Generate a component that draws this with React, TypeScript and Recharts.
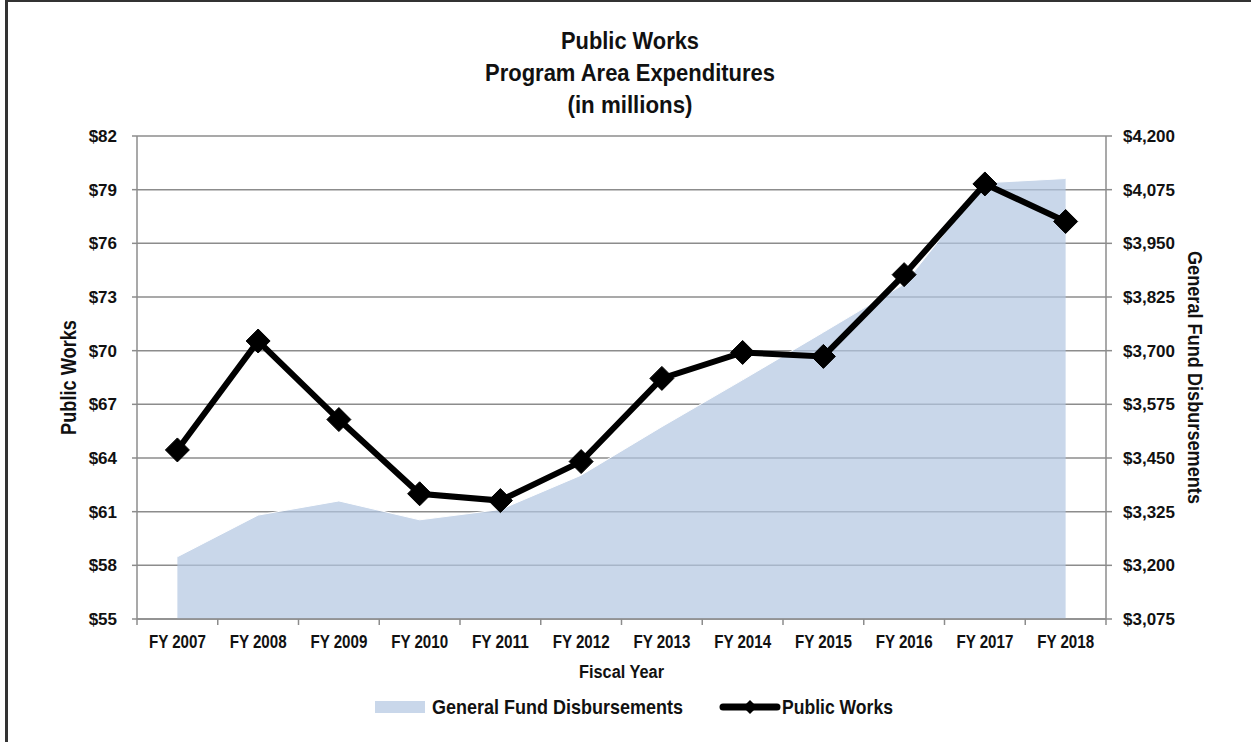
import React from 'react';
import { ComposedChart, Area, Line, XAxis, YAxis, CartesianGrid } from 'recharts';

const categories = ['FY 2007', 'FY 2008', 'FY 2009', 'FY 2010', 'FY 2011', 'FY 2012', 'FY 2013', 'FY 2014', 'FY 2015', 'FY 2016', 'FY 2017', 'FY 2018'];
const publicWorks = [64.45, 70.54, 66.15, 62.0, 61.62, 63.8, 68.45, 69.9, 69.68, 74.25, 79.32, 77.22];
const generalFund = [3220, 3317, 3350, 3306, 3330, 3410, 3523, 3632, 3743, 3855, 4091, 4101];
const leftTicks = [55, 58, 61, 64, 67, 70, 73, 76, 79, 82];
const rightTicks = [3075, 3200, 3325, 3450, 3575, 3700, 3825, 3950, 4075, 4200];
const titleLines = ['Public Works', 'Program Area Expenditures', '(in millions)'];

const data = categories.map((c, i) => ({ fy: c, pw: publicWorks[i], gf: generalFund[i] }));

const W = 1251;
const H = 742;
const M = { top: 136, right: 85, bottom: 93, left: 77 };
const YW = 60;
const XH = 30;
const PLOT_LEFT = M.left + YW;
const PLOT_RIGHT = W - M.right - YW;
const PLOT_BOTTOM = H - M.bottom - XH;
const PLOT_MID_Y = (M.top + PLOT_BOTTOM) / 2;
const HALF_BAND = (PLOT_RIGHT - PLOT_LEFT) / categories.length / 2;

const GRID = '#8c8c8c';
const SANS = '"Liberation Sans", Arial, sans-serif';
const TEXT = '#111';

const XTick = (props: any) => {
  const { x, payload, index } = props;
  const last = index === categories.length - 1;
  return (
    <g>
      <line x1={x - HALF_BAND} x2={x - HALF_BAND} y1={PLOT_BOTTOM} y2={PLOT_BOTTOM + 6} stroke={GRID} strokeWidth={1.5} />
      {last && <line x1={x + HALF_BAND} x2={x + HALF_BAND} y1={PLOT_BOTTOM} y2={PLOT_BOTTOM + 6} stroke={GRID} strokeWidth={1.5} />}
      <text x={x} y={PLOT_BOTTOM + 29} textAnchor="middle" fontFamily={SANS} fontWeight="bold" fontSize={18} textLength={57} lengthAdjust="spacingAndGlyphs" fill={TEXT}>
        {payload.value}
      </text>
    </g>
  );
};

const Diamond = (props: any) => {
  const { cx, cy } = props;
  if (cx == null || cy == null) return null;
  const r = 12;
  return <polygon points={`${cx},${cy - r} ${cx + r},${cy} ${cx},${cy + r} ${cx - r},${cy}`} fill="#000" stroke="#000" strokeWidth={1} strokeLinejoin="round" />;
};

export default function App() {
  return (
    <div style={{ position: 'absolute', left: 0, top: 0, width: W, height: H, background: '#fff', overflow: 'hidden' }}>
      <div style={{ position: 'absolute', left: 5, top: 0, width: W, height: H, borderLeft: '3px solid #333', borderTop: '2px solid #333', boxSizing: 'border-box' }} />
      <ComposedChart width={W} height={H} data={data} margin={M} style={{ position: 'absolute', left: 0, top: 0 }}>
        <CartesianGrid yAxisId="left" vertical={false} stroke={GRID} strokeWidth={1.5} strokeOpacity={1} />
        <XAxis
          dataKey="fy"
          height={XH}
          padding={{ left: HALF_BAND, right: HALF_BAND }}
          axisLine={{ stroke: GRID, strokeWidth: 1.5 }}
          tickLine={false}
          interval={0}
          tick={<XTick />}
        />
        <YAxis
          yAxisId="left"
          width={YW}
          domain={[55, 82]}
          ticks={leftTicks}
          interval={0}
          tickFormatter={(v: number) => `$${v}`}
          axisLine={{ stroke: GRID, strokeWidth: 1.5 }}
          tickLine={{ stroke: GRID, strokeWidth: 1.5 }}
          tickSize={5}
          tickMargin={15}
          tick={{ fontFamily: SANS, fontWeight: 'bold', fontSize: 17, fill: TEXT }}
        />
        <YAxis
          yAxisId="right"
          orientation="right"
          width={YW}
          domain={[3075, 4200]}
          ticks={rightTicks}
          interval={0}
          tickFormatter={(v: number) => `$${v.toLocaleString('en-US')}`}
          axisLine={{ stroke: GRID, strokeWidth: 1.5 }}
          tickLine={{ stroke: GRID, strokeWidth: 1.5 }}
          tickSize={6}
          tickMargin={11}
          tick={{ fontFamily: SANS, fontWeight: 'bold', fontSize: 17, fill: TEXT }}
        />
        <Area
          yAxisId="right"
          dataKey="gf"
          type="linear"
          fill="#b2c6e1"
          fillOpacity={0.7}
          stroke="#ffffff"
          strokeWidth={1}
          isAnimationActive={false}
        />
        <Line
          yAxisId="left"
          dataKey="pw"
          type="linear"
          stroke="#000"
          strokeWidth={6}
          dot={<Diamond />}
          activeDot={false}
          isAnimationActive={false}
        />
      </ComposedChart>
      <svg width={W} height={H} style={{ position: 'absolute', left: 0, top: 0, pointerEvents: 'none' }}>
        <g fontFamily={SANS} fontWeight="bold" fill={TEXT}>
          <text x={630} y={49} textAnchor="middle" fontSize={24} textLength={138} lengthAdjust="spacingAndGlyphs">{titleLines[0]}</text>
          <text x={630} y={81} textAnchor="middle" fontSize={24} textLength={290} lengthAdjust="spacingAndGlyphs">{titleLines[1]}</text>
          <text x={630} y={113} textAnchor="middle" fontSize={24} textLength={125} lengthAdjust="spacingAndGlyphs">{titleLines[2]}</text>
          <text x={0} y={0} transform={`translate(76, ${PLOT_MID_Y}) rotate(-90)`} textAnchor="middle" fontSize={22} textLength={115} lengthAdjust="spacingAndGlyphs">Public Works</text>
          <text x={0} y={0} transform={`translate(1188, ${PLOT_MID_Y}) rotate(90)`} textAnchor="middle" fontSize={21} textLength={253} lengthAdjust="spacingAndGlyphs">General Fund Disbursements</text>
          <text x={(PLOT_LEFT + PLOT_RIGHT) / 2} y={678} textAnchor="middle" fontSize={18} textLength={85} lengthAdjust="spacingAndGlyphs">Fiscal Year</text>
          <rect x={375} y={701} width={50} height={12} fill="#c9d7ea" />
          <text x={432} y={714} fontSize={21} textLength={251} lengthAdjust="spacingAndGlyphs">General Fund Disbursements</text>
          <line x1={723} x2={777} y1={707} y2={707} stroke="#000" strokeWidth={7} strokeLinecap="round" />
          <polygon points="750,700 757,707 750,714 743,707" fill="#000" />
          <text x={782} y={714} fontSize={21} textLength={111} lengthAdjust="spacingAndGlyphs">Public Works</text>
        </g>
      </svg>
    </div>
  );
}
